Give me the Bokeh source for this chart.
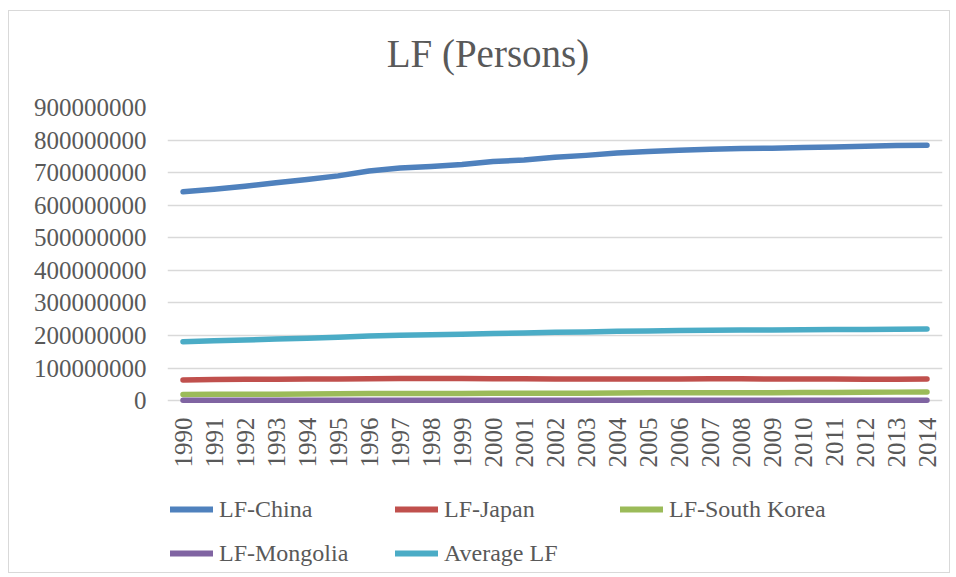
import math
from bokeh.plotting import figure
from bokeh.layouts import column
from bokeh.models import (FactorRange, Range1d, FixedTicker, NumeralTickFormatter,
                          Legend, LegendItem, Label)
from bokeh.embed import file_html
from bokeh.resources import INLINE

# ---------------- data ----------------
years = [str(y) for y in range(1990, 2015)]

lf_china = [641e6, 649e6, 658e6, 669e6, 679e6, 690e6, 705e6, 714e6, 719e6, 725e6,
            734e6, 739e6, 747e6, 753e6, 760e6, 765e6, 769e6, 772e6, 774e6, 775e6,
            777e6, 779e6, 781e6, 783e6, 784e6]
lf_japan = [63.5e6, 64.5e6, 65.3e6, 65.9e6, 66.3e6, 66.6e6, 67.0e6, 67.5e6, 67.7e6, 67.6e6,
            67.4e6, 67.1e6, 66.6e6, 66.4e6, 66.2e6, 66.3e6, 66.6e6, 66.9e6, 66.9e6, 66.5e6,
            66.3e6, 66.0e6, 65.6e6, 65.8e6, 66.0e6]
lf_korea = [18.5e6, 19.1e6, 19.5e6, 19.8e6, 20.4e6, 20.9e6, 21.4e6, 21.8e6, 21.6e6, 21.7e6,
            22.2e6, 22.5e6, 22.9e6, 22.9e6, 23.4e6, 23.7e6, 24.0e6, 24.2e6, 24.4e6, 24.4e6,
            24.7e6, 25.1e6, 25.5e6, 26.0e6, 26.6e6]
lf_mongolia = [0.84e6, 0.85e6, 0.86e6, 0.87e6, 0.88e6, 0.89e6, 0.90e6, 0.92e6, 0.93e6, 0.94e6,
               0.95e6, 0.97e6, 0.99e6, 1.01e6, 1.03e6, 1.05e6, 1.07e6, 1.10e6, 1.12e6, 1.14e6,
               1.16e6, 1.19e6, 1.22e6, 1.25e6, 1.28e6]
lf_average = [181e6, 183.5e6, 186e6, 189e6, 191.5e6, 194.5e6, 198.5e6, 201e6, 202e6, 204e6,
              206e6, 207.5e6, 209.5e6, 211e6, 213e6, 214e6, 215e6, 216e6, 217e6, 217e6,
              217.5e6, 218e6, 218.5e6, 219e6, 219.5e6]

series_names = ["LF-China", "LF-Japan", "LF-South Korea", "LF-Mongolia", "Average LF"]
series_values = [lf_china, lf_japan, lf_korea, lf_mongolia, lf_average]
series_colors = ["#4F81BD", "#C0504D", "#9BBB59", "#8064A2", "#4BACC6"]
y_ticks = [i * 100000000 for i in range(10)]
title_text = "LF (Persons)"

FONT = "Liberation Serif"
TXT = "#595959"


def blank(h):
    f = figure(width=940, height=h, x_range=Range1d(0, 1), y_range=Range1d(0, 1),
               output_backend="svg", toolbar_location=None,
               min_border_left=0, min_border_right=0, min_border_top=0, min_border_bottom=0)
    f.axis.visible = False
    f.grid.visible = False
    f.outline_line_color = None
    f.background_fill_color = "white"
    f.border_fill_color = "white"
    return f


# ---------------- title strip ----------------
head = blank(77)
head.add_layout(Label(x=0.4135, y=0.46, text=title_text, text_font=FONT,
                      text_font_size="39px", text_color=TXT,
                      text_align="center", text_baseline="alphabetic"))

# ---------------- main chart ----------------
# the value range runs slightly below zero so the thick line at ~0 is not cut in half
p = figure(width=940, height=393, x_range=FactorRange(*years, range_padding=0),
           y_range=Range1d(-12000000, 900000000), output_backend="svg", toolbar_location=None,
           min_border_left=158, min_border_right=7, min_border_top=19, min_border_bottom=77)
p.outline_line_color = None
p.background_fill_color = "white"
p.border_fill_color = "white"

p.yaxis.ticker = FixedTicker(ticks=y_ticks)
p.yaxis.formatter = NumeralTickFormatter(format="0")
for ax in (p.xaxis[0], p.yaxis[0]):
    ax.axis_line_color = None
    ax.major_tick_line_color = None
    ax.minor_tick_line_color = None
    ax.major_tick_out = 0
    ax.major_label_text_font = FONT
    ax.major_label_text_font_size = "25px"
    ax.major_label_text_color = TXT
p.yaxis.major_label_standoff = 21
p.xaxis.major_label_standoff = 13
p.xaxis.major_label_orientation = math.pi / 2

p.xgrid.grid_line_color = None
p.ygrid.ticker = FixedTicker(ticks=y_ticks)
p.ygrid.grid_line_color = "#D9D9D9"
p.ygrid.grid_line_width = 1.5

for name, vals, col in zip(series_names, series_values, series_colors):
    p.line(years, vals, line_color=col, line_width=5.5, line_cap="round", line_join="round")

# ---------------- legend strip ----------------
leg = blank(91)
nan = float("nan")
swatches = [leg.line(x=[nan], y=[nan], line_color=col, line_width=6, line_cap="round")
            for col in series_colors]

rows = [[0, 1, 2], [3, 4]]
row_bottoms = [49, 5]
for idxs, yb in zip(rows, row_bottoms):
    lg = Legend(items=[LegendItem(label=series_names[i], renderers=[swatches[i]]) for i in idxs],
                location=(3, yb), orientation="horizontal", margin=0, padding=0,
                border_line_color=None, background_fill_alpha=0,
                glyph_width=43, glyph_height=28, label_width=176, label_height=28,
                label_standoff=6, spacing=0,
                label_text_font=FONT, label_text_font_size="24px",
                label_text_color=TXT)
    leg.add_layout(lg, "center")

layout = column(head, p, leg, spacing=0,
                styles={"border": "1px solid #d9d9d9", "margin-left": "8px", "margin-top": "10px"})

open("out.html", "w").write(file_html(layout, INLINE))
